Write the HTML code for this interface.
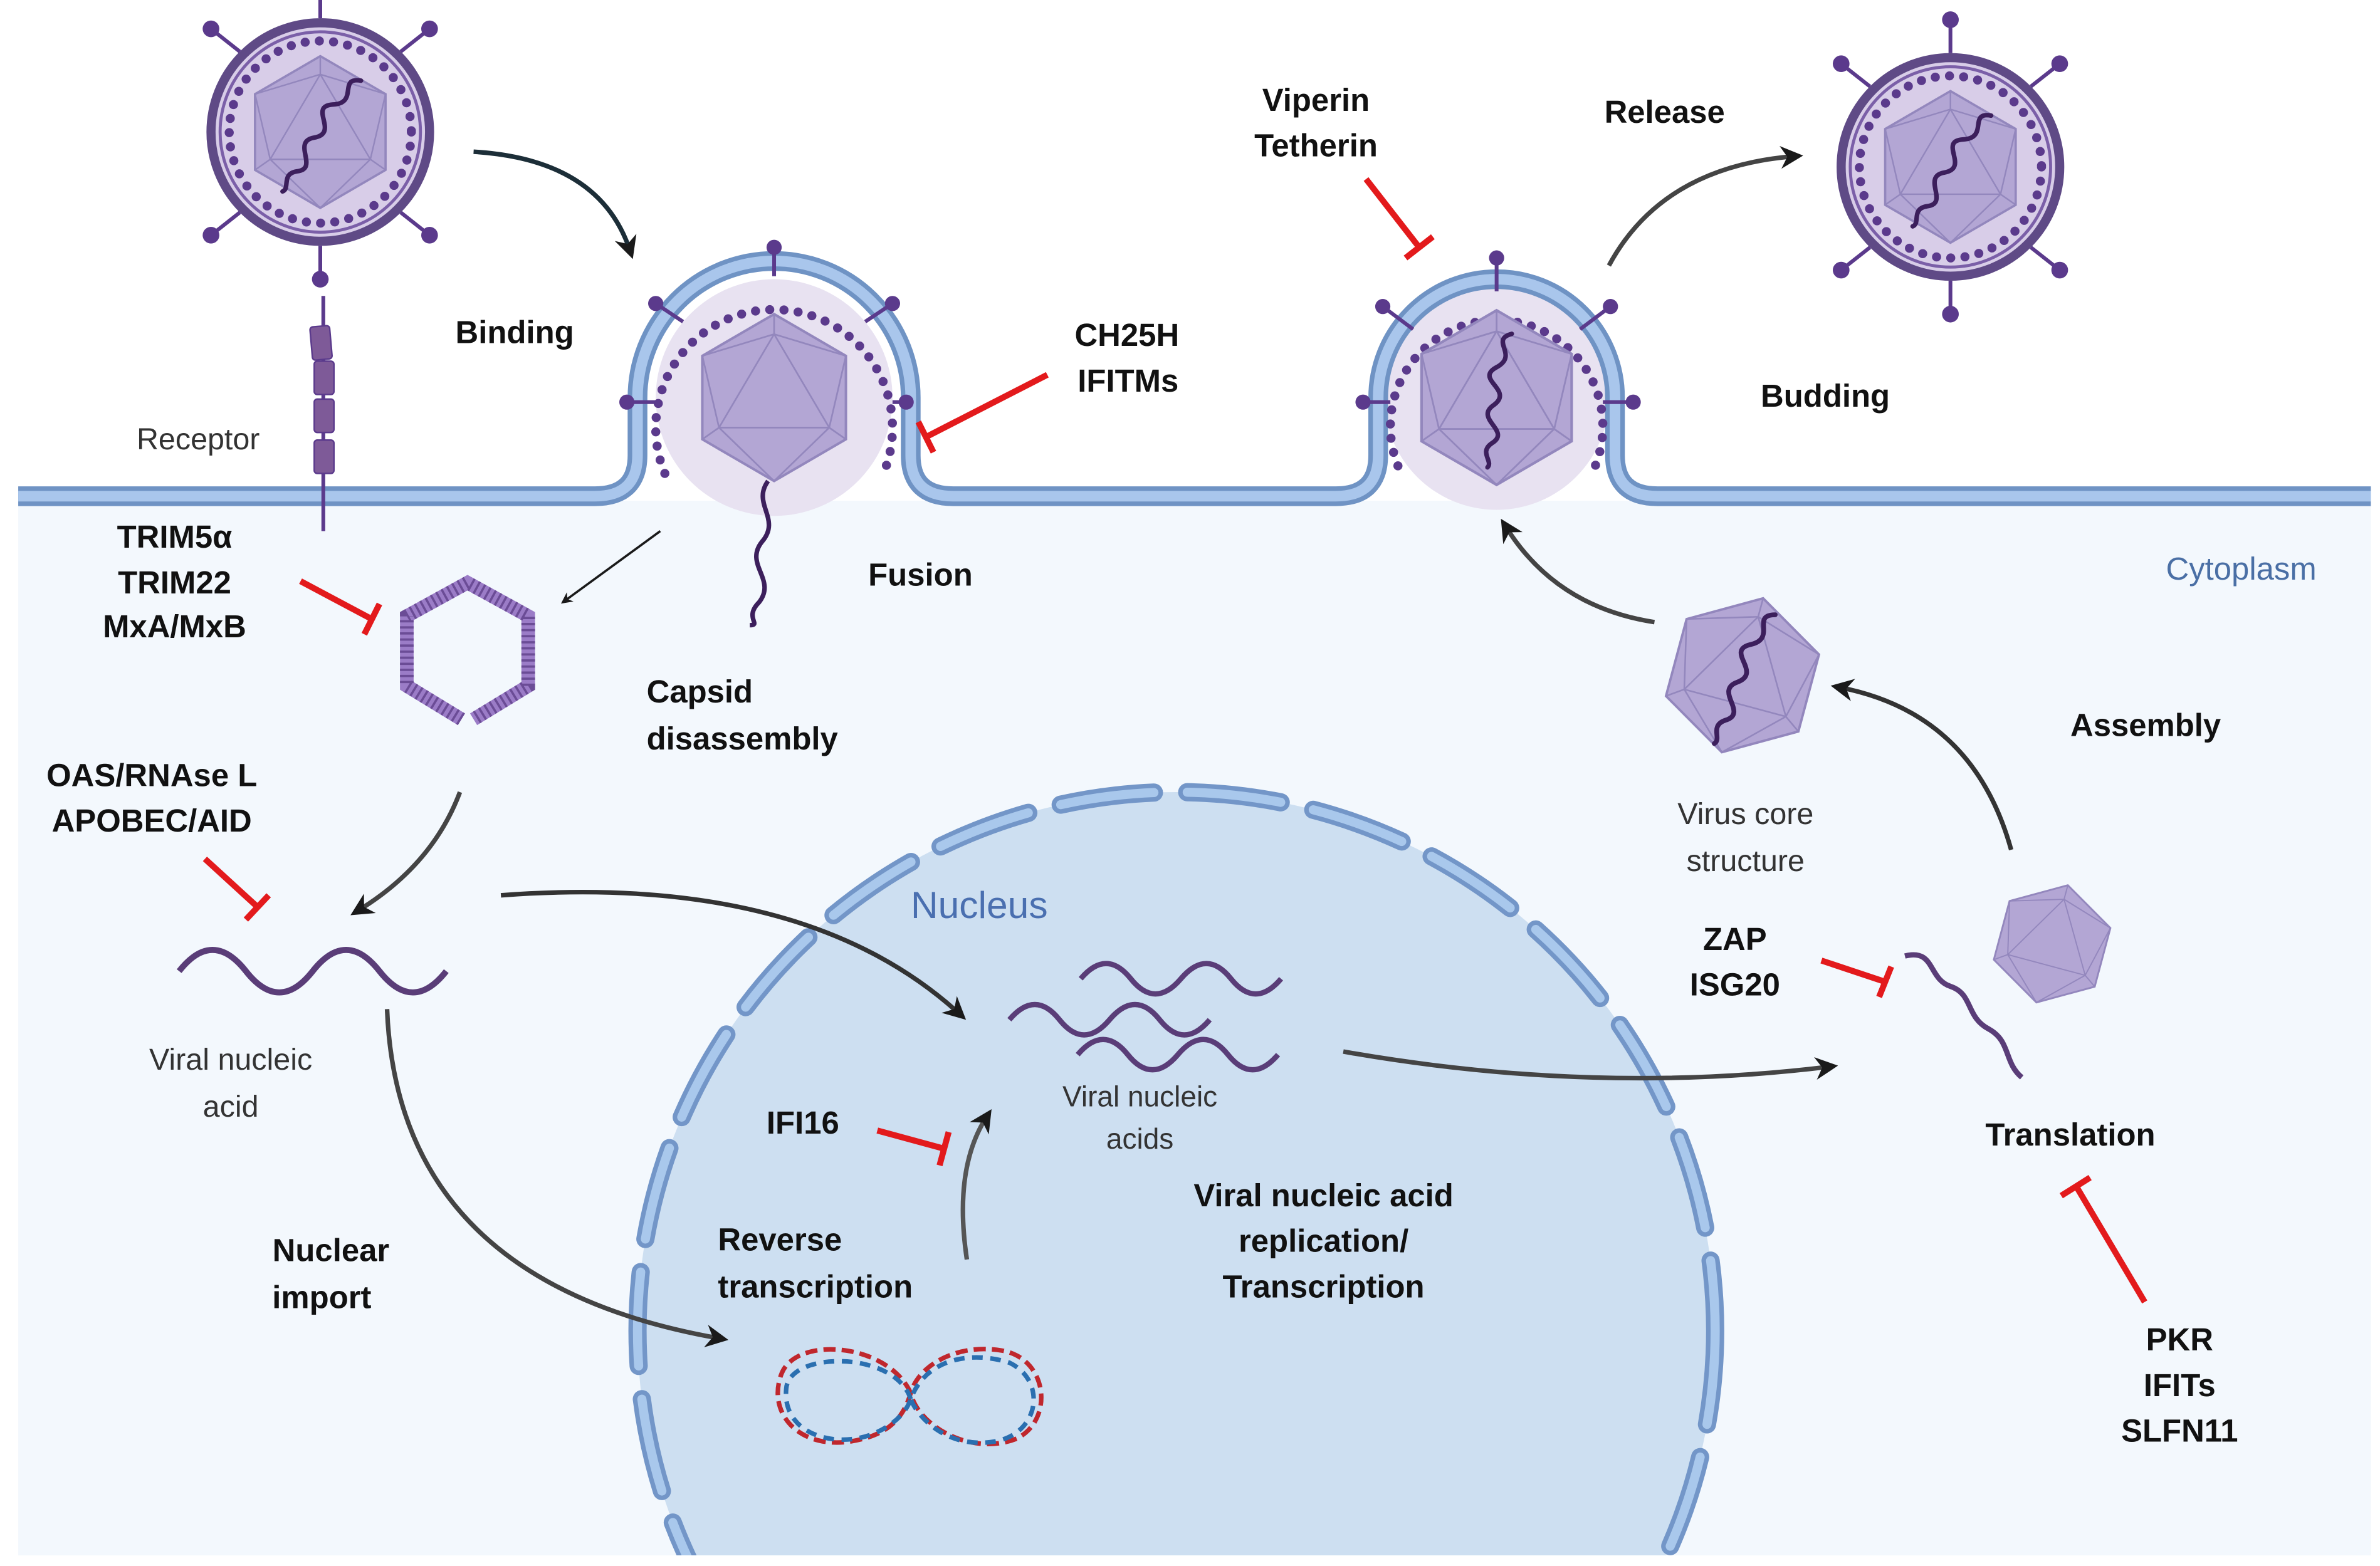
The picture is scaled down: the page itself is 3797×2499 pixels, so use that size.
<!DOCTYPE html>
<html><head><meta charset="utf-8"><style>
html,body{margin:0;padding:0;background:#fff;width:3797px;height:2499px;overflow:hidden;}
svg{display:block}
text{font-family:"Liberation Sans",Arial,sans-serif;}
.b{font-weight:bold;font-size:21px;fill:#111;}
.n{font-size:20px;fill:#333;}
</style></head><body>
<svg width="3797" height="2499" viewBox="0 0 1568 1032" xmlns="http://www.w3.org/2000/svg">
<defs>
<marker id="ah" viewBox="0 0 10 10" refX="6" refY="5" markerWidth="5" markerHeight="5" orient="auto"><path d="M0,0 L10,5 L0,10 L3,5 z" fill="#1a1a1a"/></marker>
<clipPath id="cyto"><rect x="12" y="330" width="1550" height="695"/></clipPath>
<g id="ico">
<polygon points="0,-50 43,-25 43,25 0,50 -43,25 -43,-25" fill="#b3a6d4" stroke="#9387bd" stroke-width="1.5"/>
<polygon points="0,-38 33,18 -33,18" fill="none" stroke="#9387bd" stroke-width="1"/>
<path d="M0,-50 L0,-38 M43,-25 L33,18 M-43,-25 L-33,18 M0,50 L33,18 M0,50 L-33,18 M43,25 L33,18 M-43,25 L-33,18 M43,-25 L0,-38 M-43,-25 L0,-38" stroke="#9387bd" stroke-width="1" fill="none"/>
</g>
<path id="sq" d="M10,-42 C-5,-38 15,-28 0,-20 C-15,-12 12,-5 -2,5 C-15,14 10,22 -3,30 C-12,36 -2,42 -6,46" fill="none" stroke="#3c1f5c" stroke-width="3" stroke-linecap="round"/>
<g id="virus">
<g stroke="#5b3a8c" stroke-width="2.5">
<line x1="0" y1="-75" x2="0" y2="-97"/><line x1="0" y1="75" x2="0" y2="97"/>
<line x1="-53" y1="-53" x2="-72" y2="-68"/><line x1="53" y1="-53" x2="72" y2="-68"/>
<line x1="-53" y1="53" x2="-72" y2="68"/><line x1="53" y1="53" x2="72" y2="68"/>
</g>
<g fill="#5b3a8c"><circle cx="0" cy="-97" r="5.5"/><circle cx="0" cy="97" r="5.5"/><circle cx="-72" cy="-68" r="5.5"/><circle cx="72" cy="-68" r="5.5"/><circle cx="-72" cy="68" r="5.5"/><circle cx="72" cy="68" r="5.5"/></g>
<circle r="72" fill="#d8cde8" stroke="#5f4a86" stroke-width="6"/>
<circle r="66" fill="none" stroke="#7b5fa8" stroke-width="2"/>
<circle r="60" fill="none" stroke="#5b3a8c" stroke-width="6" stroke-dasharray="0 9.4" stroke-linecap="round"/>
<use href="#ico"/>
<use href="#sq" transform="rotate(25)"/>
</g>
</defs>

<rect width="1568" height="1032" fill="#fff"/>
<rect x="12" y="330" width="1550" height="695" fill="#f3f8fd"/>

<g clip-path="url(#cyto)">
<circle cx="775" cy="877" r="355" fill="#cddff1"/>
<circle cx="775" cy="877" r="355" fill="none" stroke="#7396c8" stroke-width="12" stroke-dasharray="62 22" stroke-linecap="round"/>
<circle cx="775" cy="877" r="355" fill="none" stroke="#a9c8ec" stroke-width="6" stroke-dasharray="62 22" stroke-linecap="round"/>
</g>

<circle cx="510" cy="262" r="78" fill="#e8e2f1"/>
<circle cx="986" cy="262" r="74" fill="#e8e2f1"/>

<path d="M12,327 H392 Q420,327 420,300 V262 A90,90 0 0 1 600,262 V300 Q600,327 628,327 H880 Q908,327 908,300 V262 A78,78 0 0 1 1064,262 V300 Q1064,327 1092,327 H1562" fill="none" stroke="#6f93c4" stroke-width="13"/>
<path d="M12,327 H392 Q420,327 420,300 V262 A90,90 0 0 1 600,262 V300 Q600,327 628,327 H880 Q908,327 908,300 V262 A78,78 0 0 1 1064,262 V300 Q1064,327 1092,327 H1562" fill="none" stroke="#a9c6ec" stroke-width="7"/>

<g transform="translate(510,262)">
<path d="M-72,50 A78,78 0 1 1 72,50" fill="none" stroke="#5b3a8c" stroke-width="6" stroke-dasharray="0 9.4" stroke-linecap="round"/>
<use href="#ico" transform="scale(1.1)"/>
<g stroke="#5b3a8c" stroke-width="2.5"><line x1="0" y1="-80" x2="0" y2="-99"/><line x1="-60" y1="-50" x2="-78" y2="-62"/><line x1="60" y1="-50" x2="78" y2="-62"/><line x1="-78" y1="3" x2="-97" y2="3"/><line x1="78" y1="3" x2="87" y2="3"/></g>
<g fill="#5b3a8c"><circle cx="0" cy="-99" r="5"/><circle cx="-78" cy="-62" r="5"/><circle cx="78" cy="-62" r="5"/><circle cx="-97" cy="3" r="5"/><circle cx="87" cy="3" r="5"/></g>
<path d="M-4,55 C-15,70 5,80 -8,95 C-20,110 2,120 -10,135 C-20,145 -8,150 -16,150" fill="none" stroke="#3c1f5c" stroke-width="3"/>
</g>

<g transform="translate(986,262)">
<path d="M-65,45 A70,70 0 1 1 65,45" fill="none" stroke="#5b3a8c" stroke-width="6" stroke-dasharray="0 9.4" stroke-linecap="round"/>
<use href="#ico" transform="scale(1.15)"/>
<use href="#sq"/>
<g stroke="#5b3a8c" stroke-width="2.5"><line x1="0" y1="-70" x2="0" y2="-92"/><line x1="-55" y1="-45" x2="-75" y2="-60"/><line x1="55" y1="-45" x2="75" y2="-60"/><line x1="-70" y1="3" x2="-88" y2="3"/><line x1="70" y1="3" x2="90" y2="3"/></g>
<g fill="#5b3a8c"><circle cx="0" cy="-92" r="5"/><circle cx="-75" cy="-60" r="5"/><circle cx="75" cy="-60" r="5"/><circle cx="-88" cy="3" r="5"/><circle cx="90" cy="3" r="5"/></g>
</g>

<use href="#virus" transform="translate(211,87)"/>
<use href="#virus" transform="translate(1285,110)"/>

<line x1="213" y1="195" x2="213" y2="350" stroke="#5b3a8c" stroke-width="2.5"/>
<g fill="#7e5a98" stroke="#5b3a8c" stroke-width="1"><rect x="205" y="215" width="13" height="22" rx="2" transform="rotate(-5 211 226)"/><rect x="207" y="238" width="13" height="22" rx="2"/><rect x="207" y="263" width="13" height="22" rx="2"/><rect x="207" y="290" width="13" height="22" rx="2"/></g>

<g transform="translate(308,428)">
<path d="M-4,46 L-40,24 L-40,-22 L0,-44 L40,-22 L40,24 L4,46" fill="none" stroke="#9b7cc7" stroke-width="9"/>
<path d="M-4,46 L-40,24 L-40,-22 L0,-44 L40,-22 L40,24 L4,46" fill="none" stroke="#6b4c96" stroke-width="9" stroke-dasharray="1.5 2.5"/>
</g>

<path d="M118,640 q22,-28 44,0 t44,0 t44,0 t44,0" fill="none" stroke="#5a3d78" stroke-width="4"/>
<g fill="none" stroke="#5a3d78" stroke-width="3.5">
<path d="M712,645 q17,-20 33,0 t33,0 t33,0 t33,0"/>
<path d="M665,672 q17,-20 33,0 t33,0 t33,0 t33,0"/>
<path d="M710,695 q17,-20 33,0 t33,0 t33,0 t33,0"/>
</g>

<g fill="none" stroke-width="3">
<path d="M600,918 C585,885 525,880 515,905 C505,930 525,955 560,950 C585,946 595,935 600,918 C605,900 630,885 660,890 C690,895 695,935 670,948 C640,960 605,940 600,918" stroke="#c0272d" stroke-dasharray="8 4"/>
<path d="M600,922 C590,890 520,890 518,915 C515,945 550,955 575,945 C592,938 598,928 600,922 C610,895 640,890 665,898 C690,910 685,945 655,950 C625,955 605,935 600,922" stroke="#2a6fb0" stroke-dasharray="7 5"/>
</g>

<path d="M1255,630 C1275,625 1270,645 1285,650 C1300,655 1295,670 1310,678 C1325,686 1320,700 1332,710" fill="none" stroke="#5a3d78" stroke-width="3.5"/>
<g transform="translate(1352,622) rotate(15) scale(0.8)"><use href="#ico"/></g>
<g transform="translate(1148,445) rotate(15) scale(1.05)"><use href="#ico"/><use href="#sq"/></g>

<g fill="none" stroke="#1a1a1a" stroke-width="3" marker-end="url(#ah)">
<path d="M312,100 Q395,105 415,165" stroke="#1c2e38"/>
<path d="M435,350 L372,396" stroke-width="1.5"/>
<path d="M303,522 Q285,570 236,600" stroke="#444"/>
<path d="M330,590 Q530,575 632,668" stroke="#333"/>
<path d="M255,665 Q262,845 474,882" stroke="#444"/>
<path d="M637,830 Q628,770 650,736" stroke="#555"/>
<path d="M885,693 Q1050,722 1205,703" stroke="#444"/>
<path d="M1325,560 Q1300,470 1212,453" stroke="#333"/>
<path d="M1090,410 Q1025,400 992,347" stroke="#444"/>
<path d="M1060,175 Q1095,110 1182,103" stroke="#444"/>
</g>

<g stroke="#e31a1c" stroke-width="4" fill="none">
<line x1="690" y1="247" x2="610" y2="288"/><line x1="605" y1="278" x2="615" y2="298"/>
<line x1="900" y1="118" x2="935" y2="163"/><line x1="926" y1="170" x2="944" y2="156"/>
<line x1="198" y1="383" x2="245" y2="408"/><line x1="240" y1="418" x2="250" y2="398"/>
<line x1="135" y1="566" x2="170" y2="598"/><line x1="162" y1="606" x2="177" y2="590"/>
<line x1="578" y1="745" x2="622" y2="757"/><line x1="619" y1="768" x2="625" y2="746"/>
<line x1="1200" y1="633" x2="1242" y2="647"/><line x1="1238" y1="657" x2="1246" y2="637"/>
<line x1="1413" y1="858" x2="1368" y2="782"/><line x1="1377" y1="776" x2="1358" y2="788"/>
</g>

<text class="b" x="300" y="226">Binding</text>
<text class="n" x="90" y="296">Receptor</text>
<text class="b" x="708" y="228">CH25H</text>
<text class="b" x="710" y="258">IFITMs</text>
<text class="b" x="867" y="73" text-anchor="middle">Viperin</text>
<text class="b" x="867" y="103" text-anchor="middle">Tetherin</text>
<text class="b" x="1057" y="81">Release</text>
<text class="b" x="1160" y="268">Budding</text>
<text class="b" x="572" y="386">Fusion</text>
<text x="1427" y="382" style="font-size:21px;fill:#4a6fa5">Cytoplasm</text>
<text class="b" x="115" y="361" text-anchor="middle">TRIM5α</text>
<text class="b" x="115" y="391" text-anchor="middle">TRIM22</text>
<text class="b" x="115" y="420" text-anchor="middle">MxA/MxB</text>
<text class="b" x="426" y="463">Capsid</text>
<text class="b" x="426" y="494">disassembly</text>
<text class="b" x="100" y="518" text-anchor="middle">OAS/RNAse L</text>
<text class="b" x="100" y="548" text-anchor="middle">APOBEC/AID</text>
<text class="n" x="152" y="705" text-anchor="middle">Viral nucleic</text>
<text class="n" x="152" y="736" text-anchor="middle">acid</text>
<text x="600" y="605" style="font-size:25px;fill:#4a6fb0">Nucleus</text>
<text class="n" x="751" y="729" text-anchor="middle" style="font-size:19px">Viral nucleic</text>
<text class="n" x="751" y="757" text-anchor="middle" style="font-size:19px">acids</text>
<text class="b" x="505" y="747">IFI16</text>
<text class="b" x="473" y="824">Reverse</text>
<text class="b" x="473" y="855">transcription</text>
<text class="b" x="872" y="795" text-anchor="middle">Viral nucleic acid</text>
<text class="b" x="872" y="825" text-anchor="middle">replication/</text>
<text class="b" x="872" y="855" text-anchor="middle">Transcription</text>
<text class="b" x="218" y="831" text-anchor="middle">Nuclear</text>
<text class="b" x="212" y="862" text-anchor="middle">import</text>
<text class="n" x="1150" y="543" text-anchor="middle">Virus core</text>
<text class="n" x="1150" y="574" text-anchor="middle">structure</text>
<text class="b" x="1364" y="485">Assembly</text>
<text class="b" x="1143" y="626" text-anchor="middle">ZAP</text>
<text class="b" x="1143" y="656" text-anchor="middle">ISG20</text>
<text class="b" x="1308" y="755">Translation</text>
<text class="b" x="1436" y="890" text-anchor="middle">PKR</text>
<text class="b" x="1436" y="920" text-anchor="middle">IFITs</text>
<text class="b" x="1436" y="950" text-anchor="middle">SLFN11</text>
</svg>
</body></html>
